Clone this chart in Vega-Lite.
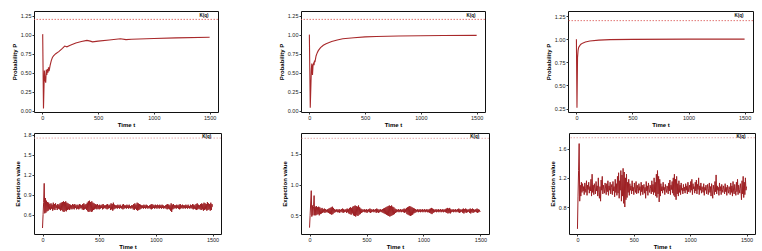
{
"$schema":"https://vega.github.io/schema/vega-lite/v6.json",
"padding":{"left":10,"top":10,"right":5,"bottom":3},
"spacing":4,
"config":{
 "view":{"stroke":"#111","strokeWidth":1},
 "axis":{"grid":false,"domain":false,"tickSize":2,"tickColor":"#333","tickCount":12,"labelFontSize":5.5,"labelColor":"#222","labelFont":"Liberation Sans","labelPadding":1,"labelOverlap":false,"labelFlush":false,"titleFont":"Liberation Sans","titleFontSize":6,"titleFontWeight":"bold","titleColor":"#000","titlePadding":3},
 "axisX":{"titlePadding":1,"format":"d"}
},
"datasets":{
 "p1":[{"t":0,"v":1.0},{"t":3,"v":1.0},{"t":10,"v":0.03},{"t":18,"v":0.53},{"t":25,"v":0.4},{"t":30,"v":0.37},{"t":35,"v":0.54},{"t":40,"v":0.47},{"t":45,"v":0.55},{"t":50,"v":0.5},{"t":55,"v":0.57},{"t":60,"v":0.52},{"t":65,"v":0.56},{"t":70,"v":0.6},{"t":80,"v":0.66},{"t":90,"v":0.7},{"t":100,"v":0.72},{"t":120,"v":0.75},{"t":150,"v":0.78},{"t":180,"v":0.82},{"t":200,"v":0.85},{"t":220,"v":0.84},{"t":250,"v":0.86},{"t":300,"v":0.89},{"t":350,"v":0.91},{"t":400,"v":0.925},{"t":430,"v":0.915},{"t":450,"v":0.905},{"t":500,"v":0.915},{"t":600,"v":0.93},{"t":700,"v":0.945},{"t":750,"v":0.935},{"t":800,"v":0.94},{"t":1000,"v":0.95},{"t":1200,"v":0.957},{"t":1500,"v":0.965}],
 "p2":[{"t":0,"v":1.0},{"t":8,"v":0.04},{"t":18,"v":0.55},{"t":22,"v":0.62},{"t":28,"v":0.47},{"t":33,"v":0.6},{"t":38,"v":0.62},{"t":42,"v":0.6},{"t":46,"v":0.66},{"t":50,"v":0.64},{"t":60,"v":0.72},{"t":70,"v":0.76},{"t":80,"v":0.79},{"t":100,"v":0.83},{"t":125,"v":0.86},{"t":150,"v":0.88},{"t":200,"v":0.91},{"t":250,"v":0.93},{"t":300,"v":0.945},{"t":400,"v":0.96},{"t":500,"v":0.97},{"t":600,"v":0.975},{"t":800,"v":0.982},{"t":1000,"v":0.986},{"t":1200,"v":0.989},{"t":1500,"v":0.99}],
 "p3":[{"t":0,"v":1.0},{"t":5,"v":0.26},{"t":10,"v":0.8},{"t":15,"v":0.88},{"t":20,"v":0.91},{"t":30,"v":0.93},{"t":40,"v":0.945},{"t":60,"v":0.96},{"t":80,"v":0.97},{"t":120,"v":0.98},{"t":200,"v":0.99},{"t":300,"v":0.995},{"t":500,"v":0.998},{"t":1000,"v":1.0},{"t":1500,"v":1.0}],
 "rt":[{"t":1450,"y":1.2,"ly":1.25,"label":"K(q)"}],
 "rb":[{"t":1450,"y":1.75,"ly":1.765,"label":"K(q)"}],
 "e":[
{"t":0,"a":0.40,"b":0.30,"c":0.50},{"t":5,"a":0.60,"b":0.50,"c":0.95},{"t":10,"a":0.78,"b":0.70,"c":1.30},{"t":15,"a":1.07,"b":0.90,"c":1.67},{"t":20,"a":0.62,"b":0.48,"c":0.88},{"t":25,"a":0.85,"b":0.66,"c":1.10},{"t":30,"a":0.63,"b":0.50,"c":0.95},{"t":35,"a":0.81,"b":0.64,"c":1.14},{"t":40,"a":0.65,"b":0.82,"c":1.00},{"t":45,"a":0.79,"b":0.50,"c":1.12},
{"t":50,"a":0.66,"b":0.64,"c":1.02},{"t":55,"a":0.78,"b":0.50,"c":1.08},{"t":60,"a":0.68,"b":0.65,"c":0.97},{"t":65,"a":0.76,"b":0.51,"c":1.13},{"t":70,"a":0.67,"b":0.63,"c":1.05},{"t":75,"a":0.77,"b":0.52,"c":1.00},{"t":80,"a":0.69,"b":0.64,"c":1.16},{"t":85,"a":0.75,"b":0.50,"c":0.96},{"t":90,"a":0.66,"b":0.63,"c":1.10},{"t":95,"a":0.78,"b":0.52,"c":1.04},
{"t":100,"a":0.68,"b":0.61,"c":1.14},{"t":105,"a":0.76,"b":0.53,"c":0.99},{"t":110,"a":0.67,"b":0.62,"c":1.08},{"t":115,"a":0.77,"b":0.54,"c":1.02},{"t":120,"a":0.70,"b":0.60,"c":1.18},{"t":125,"a":0.74,"b":0.55,"c":0.95},{"t":130,"a":0.67,"b":0.61,"c":1.25},{"t":135,"a":0.76,"b":0.54,"c":1.00},{"t":140,"a":0.69,"b":0.60,"c":1.10},{"t":145,"a":0.75,"b":0.55,"c":0.97},
{"t":150,"a":0.68,"b":0.59,"c":1.12},{"t":155,"a":0.77,"b":0.55,"c":1.05},{"t":160,"a":0.66,"b":0.60,"c":0.98},{"t":165,"a":0.78,"b":0.54,"c":1.15},{"t":170,"a":0.67,"b":0.61,"c":1.02},{"t":175,"a":0.79,"b":0.53,"c":1.09},{"t":180,"a":0.65,"b":0.62,"c":0.95},{"t":185,"a":0.80,"b":0.52,"c":1.20},{"t":190,"a":0.64,"b":0.63,"c":1.00},{"t":195,"a":0.79,"b":0.51,"c":0.92},
{"t":200,"a":0.66,"b":0.64,"c":1.08},{"t":205,"a":0.80,"b":0.52,"c":0.88},{"t":210,"a":0.65,"b":0.62,"c":1.17},{"t":215,"a":0.78,"b":0.54,"c":1.03},{"t":220,"a":0.67,"b":0.60,"c":1.22},{"t":225,"a":0.77,"b":0.55,"c":0.98},{"t":230,"a":0.68,"b":0.59,"c":1.10},{"t":235,"a":0.76,"b":0.56,"c":1.04},{"t":240,"a":0.67,"b":0.60,"c":0.99},{"t":245,"a":0.75,"b":0.55,"c":1.13},
{"t":250,"a":0.69,"b":0.59,"c":1.06},{"t":255,"a":0.74,"b":0.55,"c":0.97},{"t":260,"a":0.68,"b":0.60,"c":1.12},{"t":265,"a":0.76,"b":0.54,"c":1.01},{"t":270,"a":0.69,"b":0.59,"c":1.16},{"t":275,"a":0.75,"b":0.56,"c":0.96},{"t":280,"a":0.68,"b":0.60,"c":1.09},{"t":285,"a":0.76,"b":0.55,"c":1.03},{"t":290,"a":0.70,"b":0.61,"c":1.14},{"t":295,"a":0.74,"b":0.54,"c":0.98},
{"t":300,"a":0.68,"b":0.60,"c":1.07},{"t":305,"a":0.75,"b":0.55,"c":1.11},{"t":310,"a":0.69,"b":0.59,"c":0.97},{"t":315,"a":0.74,"b":0.56,"c":1.15},{"t":320,"a":0.68,"b":0.60,"c":1.02},{"t":325,"a":0.76,"b":0.54,"c":1.08},{"t":330,"a":0.69,"b":0.61,"c":0.94},{"t":335,"a":0.75,"b":0.55,"c":1.18},{"t":340,"a":0.70,"b":0.60,"c":1.00},{"t":345,"a":0.74,"b":0.53,"c":1.12},
{"t":350,"a":0.68,"b":0.62,"c":0.96},{"t":355,"a":0.76,"b":0.52,"c":1.22},{"t":360,"a":0.67,"b":0.63,"c":0.99},{"t":365,"a":0.77,"b":0.51,"c":1.27},{"t":370,"a":0.68,"b":0.62,"c":0.92},{"t":375,"a":0.75,"b":0.53,"c":1.16},{"t":380,"a":0.69,"b":0.64,"c":1.03},{"t":385,"a":0.76,"b":0.50,"c":1.30},{"t":390,"a":0.67,"b":0.65,"c":0.88},{"t":395,"a":0.78,"b":0.49,"c":1.24},
{"t":400,"a":0.65,"b":0.66,"c":0.95},{"t":405,"a":0.80,"b":0.48,"c":1.33},{"t":410,"a":0.64,"b":0.65,"c":0.85},{"t":415,"a":0.81,"b":0.50,"c":1.28},{"t":420,"a":0.66,"b":0.64,"c":0.80},{"t":425,"a":0.79,"b":0.49,"c":1.20},{"t":430,"a":0.64,"b":0.66,"c":0.90},{"t":435,"a":0.80,"b":0.51,"c":1.25},{"t":440,"a":0.65,"b":0.63,"c":0.93},{"t":445,"a":0.78,"b":0.52,"c":1.14},
{"t":450,"a":0.67,"b":0.61,"c":1.00},{"t":455,"a":0.77,"b":0.54,"c":1.18},{"t":460,"a":0.68,"b":0.60,"c":0.96},{"t":465,"a":0.76,"b":0.55,"c":1.12},{"t":470,"a":0.69,"b":0.59,"c":1.03},{"t":475,"a":0.75,"b":0.56,"c":1.09},{"t":480,"a":0.68,"b":0.60,"c":0.98},{"t":485,"a":0.76,"b":0.55,"c":1.16},{"t":490,"a":0.69,"b":0.59,"c":1.02},{"t":495,"a":0.74,"b":0.55,"c":1.07},
{"t":500,"a":0.68,"b":0.60,"c":0.97},{"t":505,"a":0.75,"b":0.54,"c":1.13},{"t":510,"a":0.69,"b":0.59,"c":1.04},{"t":515,"a":0.74,"b":0.56,"c":1.00},{"t":520,"a":0.70,"b":0.60,"c":1.15},{"t":525,"a":0.75,"b":0.55,"c":0.98},{"t":530,"a":0.68,"b":0.61,"c":1.10},{"t":535,"a":0.76,"b":0.54,"c":1.05},{"t":540,"a":0.69,"b":0.60,"c":0.99},{"t":545,"a":0.74,"b":0.55,"c":1.12},
{"t":550,"a":0.70,"b":0.59,"c":1.03},{"t":555,"a":0.74,"b":0.56,"c":1.08},{"t":560,"a":0.69,"b":0.60,"c":0.96},{"t":565,"a":0.75,"b":0.55,"c":1.14},{"t":570,"a":0.68,"b":0.59,"c":1.01},{"t":575,"a":0.76,"b":0.56,"c":1.10},{"t":580,"a":0.69,"b":0.60,"c":0.97},{"t":585,"a":0.74,"b":0.54,"c":1.06},{"t":590,"a":0.70,"b":0.61,"c":1.11},{"t":595,"a":0.75,"b":0.55,"c":0.99},
{"t":600,"a":0.67,"b":0.60,"c":1.07},{"t":605,"a":0.77,"b":0.54,"c":0.92},{"t":610,"a":0.68,"b":0.59,"c":1.15},{"t":615,"a":0.76,"b":0.55,"c":1.02},{"t":620,"a":0.66,"b":0.60,"c":1.09},{"t":625,"a":0.78,"b":0.56,"c":0.96},{"t":630,"a":0.68,"b":0.59,"c":1.13},{"t":635,"a":0.75,"b":0.55,"c":1.04},{"t":640,"a":0.69,"b":0.60,"c":1.00},{"t":645,"a":0.74,"b":0.54,"c":1.10},
{"t":650,"a":0.70,"b":0.61,"c":1.05},{"t":655,"a":0.74,"b":0.53,"c":0.98},{"t":660,"a":0.69,"b":0.62,"c":1.16},{"t":665,"a":0.75,"b":0.52,"c":1.01},{"t":670,"a":0.70,"b":0.63,"c":1.11},{"t":675,"a":0.74,"b":0.51,"c":0.97},{"t":680,"a":0.69,"b":0.64,"c":1.20},{"t":685,"a":0.75,"b":0.50,"c":1.00},{"t":690,"a":0.70,"b":0.65,"c":1.14},{"t":695,"a":0.73,"b":0.49,"c":0.95},
{"t":700,"a":0.69,"b":0.66,"c":1.25},{"t":705,"a":0.75,"b":0.48,"c":0.93},{"t":710,"a":0.68,"b":0.65,"c":1.30},{"t":715,"a":0.76,"b":0.49,"c":0.98},{"t":720,"a":0.69,"b":0.66,"c":1.22},{"t":725,"a":0.74,"b":0.50,"c":0.87},{"t":730,"a":0.70,"b":0.64,"c":1.18},{"t":735,"a":0.74,"b":0.51,"c":0.95},{"t":740,"a":0.69,"b":0.63,"c":1.12},{"t":745,"a":0.75,"b":0.52,"c":1.02},
{"t":750,"a":0.70,"b":0.61,"c":1.08},{"t":755,"a":0.74,"b":0.54,"c":0.99},{"t":760,"a":0.69,"b":0.60,"c":1.14},{"t":765,"a":0.75,"b":0.55,"c":1.03},{"t":770,"a":0.70,"b":0.59,"c":1.07},{"t":775,"a":0.73,"b":0.56,"c":0.97},{"t":780,"a":0.69,"b":0.60,"c":1.11},{"t":785,"a":0.74,"b":0.55,"c":1.04},{"t":790,"a":0.70,"b":0.59,"c":1.00},{"t":795,"a":0.74,"b":0.56,"c":1.09},
{"t":800,"a":0.68,"b":0.60,"c":1.05},{"t":805,"a":0.76,"b":0.55,"c":0.98},{"t":810,"a":0.67,"b":0.59,"c":1.13},{"t":815,"a":0.77,"b":0.56,"c":1.02},{"t":820,"a":0.69,"b":0.60,"c":1.17},{"t":825,"a":0.75,"b":0.55,"c":0.97},{"t":830,"a":0.67,"b":0.61,"c":1.10},{"t":835,"a":0.78,"b":0.54,"c":1.04},{"t":840,"a":0.66,"b":0.60,"c":1.15},{"t":845,"a":0.77,"b":0.55,"c":0.99},
{"t":850,"a":0.67,"b":0.62,"c":1.20},{"t":855,"a":0.76,"b":0.52,"c":0.96},{"t":860,"a":0.68,"b":0.63,"c":1.25},{"t":865,"a":0.75,"b":0.51,"c":0.94},{"t":870,"a":0.69,"b":0.64,"c":1.18},{"t":875,"a":0.74,"b":0.50,"c":0.90},{"t":880,"a":0.70,"b":0.65,"c":1.22},{"t":885,"a":0.74,"b":0.49,"c":0.98},{"t":890,"a":0.69,"b":0.64,"c":1.12},{"t":895,"a":0.75,"b":0.50,"c":0.95},
{"t":900,"a":0.70,"b":0.63,"c":1.16},{"t":905,"a":0.74,"b":0.51,"c":1.00},{"t":910,"a":0.69,"b":0.62,"c":1.10},{"t":915,"a":0.75,"b":0.53,"c":0.97},{"t":920,"a":0.70,"b":0.61,"c":1.13},{"t":925,"a":0.74,"b":0.54,"c":1.03},{"t":930,"a":0.69,"b":0.60,"c":1.06},{"t":935,"a":0.73,"b":0.55,"c":0.98},{"t":940,"a":0.70,"b":0.59,"c":1.11},{"t":945,"a":0.74,"b":0.56,"c":1.02},
{"t":950,"a":0.69,"b":0.60,"c":1.07},{"t":955,"a":0.75,"b":0.55,"c":0.99},{"t":960,"a":0.68,"b":0.59,"c":1.12},{"t":965,"a":0.76,"b":0.56,"c":1.03},{"t":970,"a":0.69,"b":0.60,"c":1.09},{"t":975,"a":0.75,"b":0.55,"c":0.98},{"t":980,"a":0.70,"b":0.59,"c":1.14},{"t":985,"a":0.74,"b":0.56,"c":1.01},{"t":990,"a":0.69,"b":0.60,"c":1.06},{"t":995,"a":0.75,"b":0.55,"c":1.10},
{"t":1000,"a":0.70,"b":0.59,"c":1.00},{"t":1005,"a":0.74,"b":0.56,"c":1.15},{"t":1010,"a":0.69,"b":0.60,"c":1.03},{"t":1015,"a":0.75,"b":0.55,"c":1.18},{"t":1020,"a":0.70,"b":0.59,"c":0.97},{"t":1025,"a":0.74,"b":0.56,"c":1.12},{"t":1030,"a":0.69,"b":0.60,"c":1.05},{"t":1035,"a":0.75,"b":0.55,"c":1.08},{"t":1040,"a":0.70,"b":0.59,"c":0.99},{"t":1045,"a":0.74,"b":0.55,"c":1.14},
{"t":1050,"a":0.69,"b":0.60,"c":1.02},{"t":1055,"a":0.75,"b":0.54,"c":1.17},{"t":1060,"a":0.70,"b":0.61,"c":0.98},{"t":1065,"a":0.74,"b":0.53,"c":1.11},{"t":1070,"a":0.69,"b":0.62,"c":1.04},{"t":1075,"a":0.73,"b":0.52,"c":1.20},{"t":1080,"a":0.70,"b":0.61,"c":0.97},{"t":1085,"a":0.74,"b":0.54,"c":1.09},{"t":1090,"a":0.69,"b":0.60,"c":1.03},{"t":1095,"a":0.75,"b":0.55,"c":1.13},
{"t":1100,"a":0.68,"b":0.59,"c":0.99},{"t":1105,"a":0.76,"b":0.56,"c":1.08},{"t":1110,"a":0.69,"b":0.60,"c":1.04},{"t":1115,"a":0.75,"b":0.55,"c":1.00},{"t":1120,"a":0.68,"b":0.59,"c":1.12},{"t":1125,"a":0.74,"b":0.56,"c":0.96},{"t":1130,"a":0.66,"b":0.60,"c":1.07},{"t":1135,"a":0.77,"b":0.55,"c":1.03},{"t":1140,"a":0.64,"b":0.59,"c":1.10},{"t":1145,"a":0.75,"b":0.56,"c":0.98},
{"t":1150,"a":0.68,"b":0.60,"c":1.06},{"t":1155,"a":0.76,"b":0.55,"c":1.11},{"t":1160,"a":0.69,"b":0.59,"c":0.97},{"t":1165,"a":0.74,"b":0.56,"c":1.05},{"t":1170,"a":0.70,"b":0.60,"c":1.13},{"t":1175,"a":0.74,"b":0.55,"c":1.00},{"t":1180,"a":0.69,"b":0.59,"c":1.08},{"t":1185,"a":0.75,"b":0.56,"c":0.95},{"t":1190,"a":0.70,"b":0.60,"c":1.12},{"t":1195,"a":0.74,"b":0.55,"c":1.02},
{"t":1200,"a":0.69,"b":0.61,"c":0.92},{"t":1205,"a":0.75,"b":0.54,"c":1.10},{"t":1210,"a":0.68,"b":0.62,"c":1.04},{"t":1215,"a":0.76,"b":0.53,"c":0.97},{"t":1220,"a":0.69,"b":0.61,"c":1.15},{"t":1225,"a":0.74,"b":0.54,"c":1.01},{"t":1230,"a":0.70,"b":0.62,"c":1.24},{"t":1235,"a":0.75,"b":0.53,"c":0.98},{"t":1240,"a":0.69,"b":0.60,"c":1.09},{"t":1245,"a":0.74,"b":0.55,"c":1.03},
{"t":1250,"a":0.70,"b":0.59,"c":1.07},{"t":1255,"a":0.74,"b":0.56,"c":0.96},{"t":1260,"a":0.69,"b":0.60,"c":1.13},{"t":1265,"a":0.75,"b":0.55,"c":1.02},{"t":1270,"a":0.70,"b":0.59,"c":1.08},{"t":1275,"a":0.74,"b":0.56,"c":0.97},{"t":1280,"a":0.69,"b":0.60,"c":1.11},{"t":1285,"a":0.75,"b":0.55,"c":1.04},{"t":1290,"a":0.70,"b":0.59,"c":1.00},{"t":1295,"a":0.73,"b":0.56,"c":1.09},
{"t":1300,"a":0.69,"b":0.60,"c":1.05},{"t":1305,"a":0.75,"b":0.55,"c":0.98},{"t":1310,"a":0.70,"b":0.61,"c":1.12},{"t":1315,"a":0.74,"b":0.54,"c":1.01},{"t":1320,"a":0.69,"b":0.60,"c":1.07},{"t":1325,"a":0.76,"b":0.55,"c":0.96},{"t":1330,"a":0.68,"b":0.59,"c":1.10},{"t":1335,"a":0.75,"b":0.56,"c":1.03},{"t":1340,"a":0.69,"b":0.60,"c":0.99},{"t":1345,"a":0.74,"b":0.54,"c":1.08},
{"t":1350,"a":0.68,"b":0.61,"c":1.04},{"t":1355,"a":0.76,"b":0.53,"c":0.97},{"t":1360,"a":0.67,"b":0.60,"c":1.13},{"t":1365,"a":0.77,"b":0.55,"c":1.00},{"t":1370,"a":0.68,"b":0.61,"c":1.09},{"t":1375,"a":0.75,"b":0.54,"c":0.95},{"t":1380,"a":0.69,"b":0.60,"c":1.15},{"t":1385,"a":0.74,"b":0.55,"c":1.02},{"t":1390,"a":0.68,"b":0.59,"c":0.98},{"t":1395,"a":0.76,"b":0.56,"c":1.11},
{"t":1400,"a":0.67,"b":0.60,"c":1.03},{"t":1405,"a":0.77,"b":0.54,"c":0.96},{"t":1410,"a":0.68,"b":0.61,"c":1.14},{"t":1415,"a":0.76,"b":0.53,"c":1.01},{"t":1420,"a":0.66,"b":0.60,"c":1.18},{"t":1425,"a":0.78,"b":0.55,"c":0.97},{"t":1430,"a":0.67,"b":0.61,"c":1.10},{"t":1435,"a":0.77,"b":0.54,"c":1.04},{"t":1440,"a":0.68,"b":0.60,"c":0.99},{"t":1445,"a":0.76,"b":0.55,"c":1.12},
{"t":1450,"a":0.66,"b":0.59,"c":1.05},{"t":1455,"a":0.79,"b":0.56,"c":0.90},{"t":1460,"a":0.67,"b":0.60,"c":1.16},{"t":1465,"a":0.77,"b":0.55,"c":0.98},{"t":1470,"a":0.68,"b":0.61,"c":1.22},{"t":1475,"a":0.76,"b":0.54,"c":0.93},{"t":1480,"a":0.66,"b":0.60,"c":1.14},{"t":1485,"a":0.78,"b":0.55,"c":0.97},{"t":1490,"a":0.67,"b":0.59,"c":1.20},{"t":1495,"a":0.76,"b":0.56,"c":1.03},
{"t":1500,"a":0.72,"b":0.57,"c":1.08}
 ]
},
"vconcat":[
 {"spacing":58,"align":"none","hconcat":[
  {"width":184,"height":101,"layer":[
   {"data":{"name":"p1"},"mark":{"type":"line","color":"#a8282a","strokeWidth":1.1},"encoding":{"x":{"field":"t","type":"quantitative","scale":{"domain":[-75,1575],"nice":false,"zero":false},"axis":{"title":"Time t","values":[0,500,1000,1500],"tickCount":12}},"y":{"field":"v","type":"quantitative","scale":{"domain":[-0.015,1.31],"nice":false,"zero":false},"axis":{"title":"Probability P","values":[0,0.25,0.5,0.75,1,1.25],"format":".2f","tickCount":12}}}},
   {"data":{"name":"rt"},"mark":{"type":"rule","color":"#d9534f","strokeWidth":0.8,"strokeDash":[1.5,1.5]},"encoding":{"y":{"field":"y","type":"quantitative"}}},
   {"data":{"name":"rt"},"mark":{"type":"text","fontSize":4.5,"fontWeight":"bold","color":"#000","font":"Liberation Sans"},"encoding":{"x":{"field":"t","type":"quantitative"},"y":{"field":"ly","type":"quantitative"},"text":{"field":"label"}}}
  ]},
  {"width":184,"height":101,"layer":[
   {"data":{"name":"p2"},"mark":{"type":"line","color":"#a8282a","strokeWidth":1.1},"encoding":{"x":{"field":"t","type":"quantitative","scale":{"domain":[-75,1575],"nice":false,"zero":false},"axis":{"title":"Time t","values":[0,500,1000,1500],"tickCount":12}},"y":{"field":"v","type":"quantitative","scale":{"domain":[-0.015,1.31],"nice":false,"zero":false},"axis":{"title":"Probability P","values":[0,0.25,0.5,0.75,1,1.25],"format":".2f","tickCount":12}}}},
   {"data":{"name":"rt"},"mark":{"type":"rule","color":"#d9534f","strokeWidth":0.8,"strokeDash":[1.5,1.5]},"encoding":{"y":{"field":"y","type":"quantitative"}}},
   {"data":{"name":"rt"},"mark":{"type":"text","fontSize":4.5,"fontWeight":"bold","color":"#000","font":"Liberation Sans"},"encoding":{"x":{"field":"t","type":"quantitative"},"y":{"field":"ly","type":"quantitative"},"text":{"field":"label"}}}
  ]},
  {"width":185,"height":101,"layer":[
   {"data":{"name":"p3"},"mark":{"type":"line","color":"#a8282a","strokeWidth":1.1},"encoding":{"x":{"field":"t","type":"quantitative","scale":{"domain":[-75,1575],"nice":false,"zero":false},"axis":{"title":"Time t","values":[0,500,1000,1500],"tickCount":12}},"y":{"field":"v","type":"quantitative","scale":{"domain":[0.214,1.304],"nice":false,"zero":false},"axis":{"title":"Probability P","values":[0.25,0.5,0.75,1,1.25],"format":".2f","tickCount":12}}}},
   {"data":{"name":"rt"},"mark":{"type":"rule","color":"#d9534f","strokeWidth":0.8,"strokeDash":[1.5,1.5]},"encoding":{"y":{"field":"y","type":"quantitative"}}},
   {"data":{"name":"rt"},"mark":{"type":"text","fontSize":4.5,"fontWeight":"bold","color":"#000","font":"Liberation Sans"},"encoding":{"x":{"field":"t","type":"quantitative"},"y":{"field":"ly","type":"quantitative"},"text":{"field":"label"}}}
  ]}
 ]},
 {"spacing":58,"align":"none","hconcat":[
  {"width":187,"height":101,"layer":[
   {"data":{"name":"e"},"mark":{"type":"line","color":"#9e2024","strokeWidth":1},"encoding":{"x":{"field":"t","type":"quantitative","scale":{"domain":[-75,1575],"nice":false,"zero":false},"axis":{"title":"Time t","values":[0,500,1000,1500],"tickCount":12}},"y":{"field":"a","type":"quantitative","scale":{"domain":[0.31,1.826],"nice":false,"zero":false},"axis":{"title":"Expection value","values":[0.6,0.9,1.2,1.5,1.8],"format":".1f","tickCount":12}}}},
   {"data":{"name":"rb"},"mark":{"type":"rule","color":"#e39a9a","strokeWidth":0.8,"strokeDash":[1.5,1.5]},"encoding":{"y":{"field":"y","type":"quantitative"}}},
   {"data":{"name":"rb"},"mark":{"type":"text","fontSize":4.5,"fontWeight":"bold","color":"#000","font":"Liberation Sans"},"encoding":{"x":{"field":"t","type":"quantitative"},"y":{"field":"ly","type":"quantitative"},"text":{"field":"label"}}}
  ]},
  {"width":188,"height":101,"layer":[
   {"data":{"name":"e"},"mark":{"type":"line","color":"#9e2024","strokeWidth":1},"encoding":{"x":{"field":"t","type":"quantitative","scale":{"domain":[-75,1575],"nice":false,"zero":false},"axis":{"title":"Time t","values":[0,500,1000,1500],"tickCount":12}},"y":{"field":"b","type":"quantitative","scale":{"domain":[0.197,1.836],"nice":false,"zero":false},"axis":{"title":"Expection value","values":[0.5,1.0,1.5],"format":".1f","tickCount":12}}}},
   {"data":{"name":"rb"},"mark":{"type":"rule","color":"#e39a9a","strokeWidth":0.8,"strokeDash":[1.5,1.5]},"encoding":{"y":{"field":"y","type":"quantitative"}}},
   {"data":{"name":"rb"},"mark":{"type":"text","fontSize":4.5,"fontWeight":"bold","color":"#000","font":"Liberation Sans"},"encoding":{"x":{"field":"t","type":"quantitative"},"y":{"field":"ly","type":"quantitative"},"text":{"field":"label"}}}
  ]},
  {"width":186,"height":101,"layer":[
   {"data":{"name":"e"},"mark":{"type":"line","color":"#9e2024","strokeWidth":1},"encoding":{"x":{"field":"t","type":"quantitative","scale":{"domain":[-75,1575],"nice":false,"zero":false},"axis":{"title":"Time t","values":[0,500,1000,1500],"tickCount":12}},"y":{"field":"c","type":"quantitative","scale":{"domain":[0.43,1.815],"nice":false,"zero":false},"axis":{"title":"Expection value","values":[0.8,1.2,1.6],"format":".1f","tickCount":12}}}},
   {"data":{"name":"rb"},"mark":{"type":"rule","color":"#e39a9a","strokeWidth":0.8,"strokeDash":[1.5,1.5]},"encoding":{"y":{"field":"y","type":"quantitative"}}},
   {"data":{"name":"rb"},"mark":{"type":"text","fontSize":4.5,"fontWeight":"bold","color":"#000","font":"Liberation Sans"},"encoding":{"x":{"field":"t","type":"quantitative"},"y":{"field":"ly","type":"quantitative"},"text":{"field":"label"}}}
  ]}
 ]}
]
}
